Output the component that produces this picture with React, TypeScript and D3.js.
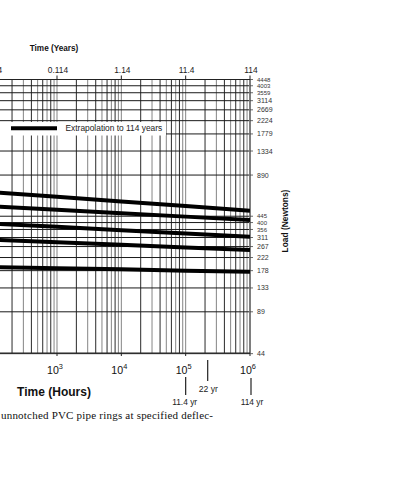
import React from "react";
import * as d3 from "d3";

const W = 393;
const H = 480;

// time in hours (decades) and load in newtons
const hours = [100, 1000, 10000, 100000, 1000000];
const lineA = [667, 617, 570, 528, 488];
const lineB = [526, 497, 468, 442, 418];
const lineC = [393, 372, 352, 333, 315];
const lineD = [300, 287, 275, 263, 252];
const lineE = [189, 185, 182, 178, 175];
const series = [lineA, lineB, lineC, lineD, lineE];

// load grid: multiples of 10 lbf, labelled in newtons
const loadLabels = [44, 89, 133, 178, 222, 267, 311, 356, 400, 445, 890, 1334, 1779, 2224, 2669, 3114, 3559, 4003, 4448];
const tightLabels = [356, 400, 445, 3559, 4003, 4448];
const yearLabels = ["0.0114", "0.114", "1.14", "11.4", "114"];
const hourExp = ["2", "3", "4", "5", "6"];

const x = d3.scaleLog().domain([1e3, 1e6]).range([57, 250]);
const y = d3.scaleLog().domain([44.48, 4448]).range([353, 79.5]);

const left = -10;
const right = x(1e6);
const top = y(4448);
const bottom = y(44.48);

const sans = "'Liberation Sans', Arial, sans-serif";

// minor vertical lines, some printed darker than others
const vLines: { v: number; dark: boolean }[] = [];
for (let e = 2; e < 6; e++) {
    for (let k = 1; k < 10; k++) {
        vLines.push({ v: k * Math.pow(10, e), dark: k % 2 === 0 });
    }
}
vLines.push({ v: 1e6, dark: false });

const line = d3.line<number>()
    .x((_, i) => x(hours[i]))
    .y(d => y(d));

export default function App() {
    return (
        <svg width={W} height={H} style={{ position: "absolute", left: 0, top: 0, background: "#fff" }}>
            <defs>
                <clipPath id="plot">
                    <rect x={left} y={top} width={right - left} height={bottom - top} />
                </clipPath>
            </defs>

            {/* grid */}
            <g>
                {vLines.map((d, i) => (
                    <line key={i} x1={x(d.v)} x2={x(d.v)} y1={top} y2={bottom}
                        stroke={d.dark ? "#2a2a2a" : "#858585"} strokeWidth={1} />
                ))}
                {loadLabels.map((d, i) => (
                    <line key={i} x1={left} x2={right} y1={y(d)} y2={y(d)} stroke="#1a1a1a" strokeWidth={1} />
                ))}
            </g>

            {/* frame and ticks */}
            <line x1={right} x2={right} y1={top} y2={bottom} stroke="#777" strokeWidth={1.8} />
            <line x1={left} x2={right} y1={bottom} y2={bottom} stroke="#222" strokeWidth={1} />
            <line x1={left} x2={right} y1={top} y2={top} stroke="#222" strokeWidth={1} />
            {hours.map((h, i) => (
                <g key={i}>
                    <line x1={x(h)} x2={x(h)} y1={top} y2={top - 4} stroke="#222" />
                    <line x1={x(h)} x2={x(h)} y1={bottom} y2={bottom + 3} stroke="#222" />
                </g>
            ))}
            {loadLabels.map((d, i) => (
                <line key={i} x1={right} x2={right + 3} y1={y(d)} y2={y(d)} stroke="#444" strokeWidth={0.8} />
            ))}

            {/* legend */}
            <rect x={left} y={122} width={176} height={13.5} fill="#fff" />
            <line x1={11} x2={57} y1={128.3} y2={128.3} stroke="#000" strokeWidth={4} />
            <text x={65.5} y={131.3} fontFamily={sans} fontSize={8.4} fill="#222">Extrapolation to 114 years</text>

            {/* data */}
            <g clipPath="url(#plot)">
                {series.map((s, i) => (
                    <path key={i} d={line(s) || ""} fill="none" stroke="#000" strokeWidth={4} />
                ))}
            </g>

            {/* top axis: years */}
            <text x={54} y={51} textAnchor="middle" fontFamily={sans} fontSize={8.2} fontWeight="bold" fill="#111">Time (Years)</text>
            {yearLabels.map((t, i) => (
                <text key={i} x={i === 0 ? x(hours[i]) - 3 : x(hours[i]) + 1} y={73} textAnchor="middle" fontFamily={sans} fontSize={8.4} fill="#222">{t}</text>
            ))}

            {/* right axis: load */}
            {loadLabels.map((d, i) => {
                const tight = tightLabels.includes(d);
                return (
                    <text key={i} x={257} y={y(d) + (tight ? 2.1 : 2.5)} fontFamily={sans} fontSize={tight ? 6 : 7} fill="#333">{d}</text>
                );
            })}
            <text transform="translate(287.5,221) rotate(-90)" textAnchor="middle" fontFamily={sans} fontSize={8.4} fontWeight="bold" fill="#111">Load (Newtons)</text>

            {/* bottom axis: hours (10^2 sits off the cropped page) */}
            {hours.slice(1).map((h, i) => (
                <text key={i} x={x(h) - 2} y={373.5} textAnchor="middle" fontFamily={sans} fontSize={10.6} fill="#111">
                    10<tspan dy={-4.5} fontSize={7.4}>{hourExp[i + 1]}</tspan>
                </text>
            ))}
            <text x={54} y={396} textAnchor="middle" fontFamily={sans} fontSize={12} fontWeight="bold" fill="#111">Time (Hours)</text>

            {/* year markers under the hour axis */}
            <line x1={x(1e5)} x2={x(1e5)} y1={377} y2={395} stroke="#222" strokeWidth={1.2} />
            <text x={x(1e5) - 1} y={404.5} textAnchor="middle" fontFamily={sans} fontSize={8.4} fill="#222">11.4 yr</text>
            <line x1={x(2.2e5)} x2={x(2.2e5)} y1={360} y2={381} stroke="#222" strokeWidth={1.2} />
            <text x={x(2.2e5) - 9} y={392} fontFamily={sans} fontSize={8.6} fill="#222">22 yr</text>
            <line x1={x(1e6) + 1} x2={x(1e6) + 1} y1={378} y2={395} stroke="#222" strokeWidth={1.2} />
            <text x={x(1e6) + 2} y={405} textAnchor="middle" fontFamily={sans} fontSize={8.4} fill="#222">114 yr</text>

            {/* caption fragment */}
            <text x={1} y={419} fontFamily="'Liberation Serif', 'DejaVu Serif', serif" fontSize={11}
                textLength={212} lengthAdjust="spacing" fill="#111">
                unnotched PVC pipe rings at specified deflec-
            </text>
        </svg>
    );
}
